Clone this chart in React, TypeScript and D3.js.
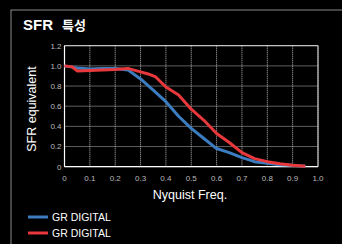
import React from 'react';
import * as d3 from 'd3';

const xTicks = [0, 0.1, 0.2, 0.3, 0.4, 0.5, 0.6, 0.7, 0.8, 0.9, 1.0];
const yTicks = [0, 0.2, 0.4, 0.6, 0.8, 1.0, 1.2];

const blueFreq = [0, 0.05, 0.1, 0.15, 0.2, 0.25, 0.3, 0.35, 0.4, 0.45, 0.5, 0.55, 0.6, 0.65, 0.7, 0.75, 0.8, 0.85, 0.9, 0.95];
const blueSfr = [1.0, 0.98, 0.97, 0.975, 0.975, 0.96, 0.87, 0.76, 0.645, 0.5, 0.38, 0.28, 0.18, 0.14, 0.09, 0.05, 0.035, 0.02, 0.015, 0.005];

const redFreq = [0, 0.03, 0.05, 0.1, 0.15, 0.2, 0.25, 0.3, 0.33, 0.36, 0.4, 0.45, 0.5, 0.55, 0.6, 0.65, 0.7, 0.75, 0.8, 0.85, 0.9, 0.95];
const redSfr = [1.0, 0.99, 0.95, 0.955, 0.96, 0.965, 0.975, 0.94, 0.92, 0.89, 0.79, 0.71, 0.57, 0.46, 0.33, 0.24, 0.14, 0.08, 0.05, 0.03, 0.015, 0.005];

const seriesNames = ['GR DIGITAL', 'GR DIGITAL'];
const seriesColors = ['#3b7dc0', '#e8383b'];

const font = 'Helvetica, Arial, "Liberation Sans", sans-serif';

export default function App() {
  const W = 342, H = 244;
  const left = 64.5, right = 318, top = 45.7, bottom = 166.7;

  const x = d3.scaleLinear().domain([0, 1]).range([left, right]);
  const y = d3.scaleLinear().domain([0, 1.2]).range([bottom, top]);

  const line = d3.line<[number, number]>()
    .x(d => x(d[0]))
    .y(d => y(d[1]));

  const blue = blueFreq.map((f, i) => [f, blueSfr[i]] as [number, number]);
  const red = redFreq.map((f, i) => [f, redSfr[i]] as [number, number]);

  return (
    <svg width={W} height={H} style={{ position: 'absolute', left: 0, top: 0, background: '#000' }}>
      <rect x={0} y={0} width={W} height={H} fill="#000" />
      <rect x={11} y={10} width={W} height={H} fill="none" stroke="#8a8a8a" strokeWidth={1} />
      <text y={30} fill="#fff" fontFamily={'Arial, "Liberation Sans", "Noto Sans CJK KR", sans-serif'} fontWeight="bold" fontSize={15}>
        <tspan x={23}>SFR</tspan>
        <tspan x={62} fontFamily={'"Noto Sans CJK KR", sans-serif'} fontSize={13}>특성</tspan>
      </text>

      {xTicks.map(t => (
        <line key={'gx' + t} x1={x(t)} x2={x(t)} y1={top} y2={bottom} stroke="#bbb" strokeWidth={1} strokeDasharray="1,1" />
      ))}
      {yTicks.map(t => (
        <line key={'gy' + t} x1={left} x2={right} y1={y(t)} y2={y(t)} stroke="#bbb" strokeWidth={1} strokeDasharray="1,1" />
      ))}
      <line x1={left} x2={left} y1={top} y2={bottom} stroke="#fff" strokeWidth={1.2} />
      <line x1={left} x2={right} y1={bottom} y2={bottom} stroke="#fff" strokeWidth={1.2} />
      <line x1={right} x2={right} y1={top} y2={bottom} stroke="#ddd" strokeWidth={1} />
      <line x1={left} x2={right} y1={top} y2={top} stroke="#ddd" strokeWidth={1} />

      {yTicks.map(t => (
        <text key={'ly' + t} x={left - 3} y={y(t)} dy="0.35em" textAnchor="end" fill="#bbb" fontFamily={font} fontSize={8}>
          {t === 0 ? '0' : t.toFixed(1)}
        </text>
      ))}
      {xTicks.map(t => (
        <text key={'lx' + t} x={x(t)} y={180.5} textAnchor="middle" fill="#bbb" fontFamily={font} fontSize={8}>
          {t === 0 ? '0' : t.toFixed(1)}
        </text>
      ))}

      <text transform={`translate(36,109) rotate(-90)`} textAnchor="middle" fill="#fff" fontFamily={font} fontSize={12.5}>SFR equivalent</text>
      <text x={190} y={199} textAnchor="middle" fill="#fff" fontFamily={font} fontSize={12.5}>Nyquist Freq.</text>

      <path d={line(blue) || ''} fill="none" stroke={seriesColors[0]} strokeWidth={3} strokeLinejoin="round" />
      <path d={line(red) || ''} fill="none" stroke={seriesColors[1]} strokeWidth={3} strokeLinejoin="round" />

      {seriesNames.map((n, i) => (
        <g key={i} transform={`translate(0,${217 + i * 16})`}>
          <line x1={28} x2={48} y1={0} y2={0} stroke={seriesColors[i]} strokeWidth={3} />
          <text x={52} y={0} dy="0.36em" fill="#fff" fontFamily={font} fontSize={10.5}>{n}</text>
        </g>
      ))}
    </svg>
  );
}
